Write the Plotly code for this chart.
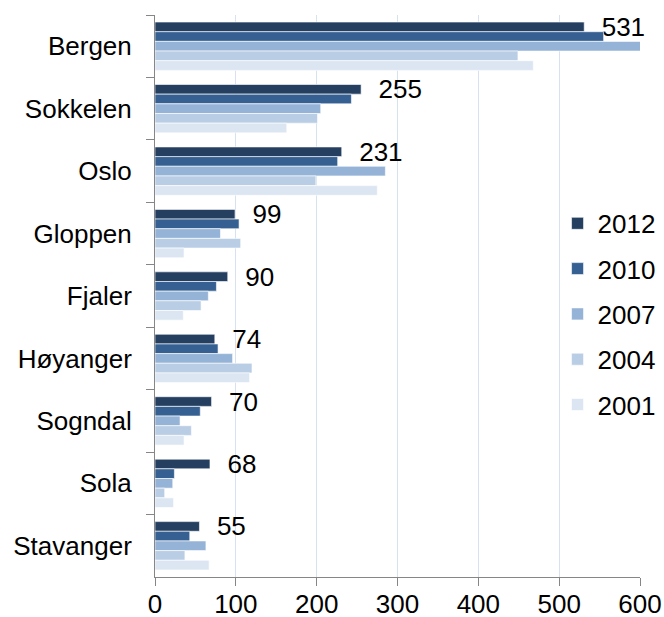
import plotly.graph_objects as go

categories = ["Bergen", "Sokkelen", "Oslo", "Gloppen", "Fjaler", "Høyanger", "Sogndal", "Sola", "Stavanger"]
years = ["2012", "2010", "2007", "2004", "2001"]
v2012 = [531, 255, 231, 99, 90, 74, 70, 68, 55]
v2010 = [555, 243, 226, 104, 76, 78, 56, 24, 43]
v2007 = [602, 205, 285, 81, 66, 96, 31, 22, 63]
v2004 = [449, 201, 199, 106, 57, 120, 45, 12, 37]
v2001 = [468, 163, 275, 36, 35, 117, 36, 23, 67]
series = [v2012, v2010, v2007, v2004, v2001]
colors = ["#243F60", "#366092", "#95B3D7", "#B9CDE5", "#DCE6F2"]

FONT = "Liberation Sans, Arial, sans-serif"
fig = go.Figure()
for i, (yr, vals, col) in enumerate(zip(years, series, colors)):
    kw = {}
    if i == 0:
        kw = dict(text=["\u00a0\u00a0" + str(v) for v in vals], textposition="outside",
                  textfont=dict(size=26, color="black", family=FONT),
                  constraintext="none", cliponaxis=False)
    fig.add_trace(go.Bar(name=yr, y=categories, x=vals, orientation="h",
                         marker=dict(color=col, line=dict(width=0.6, color="white")),
                         legendgroup=yr, **kw))

fig.update_layout(
    width=664, height=617,
    margin=dict(l=155, r=24, t=15, b=40, autoexpand=False),
    barmode="group", bargap=0.226, bargroupgap=0,
    plot_bgcolor="white", paper_bgcolor="white",
    font=dict(family=FONT, size=26, color="black"),
    showlegend=True,
    legend=dict(x=0.83, y=0.671, xanchor="left", yanchor="top",
                font=dict(size=26), bgcolor="rgba(0,0,0,0)",
                traceorder="grouped", tracegroupgap=8.5),
    xaxis=dict(range=[0, 600], tickvals=[0, 100, 200, 300, 400, 500, 600],
               showgrid=True, gridcolor="#D6E2F0", gridwidth=1,
               showline=True, linecolor="#868686", linewidth=1,
               ticks="outside", ticklen=8, tickcolor="#868686",
               zeroline=False, tickfont=dict(size=26), automargin=False,
               ticklabelstandoff=-4),
    yaxis=dict(autorange="reversed", type="category", tickson="boundaries",
               showline=True, linecolor="#868686", linewidth=1,
               ticks="outside", ticklen=8, tickcolor="#868686",
               showgrid=False, tickfont=dict(size=26), automargin=False,
               ticklabelstandoff=17),
)
fig.write_html("out.html", config={"displayModeBar": False},
               post_script="document.body.style.margin='0';document.body.style.overflow='hidden';")
